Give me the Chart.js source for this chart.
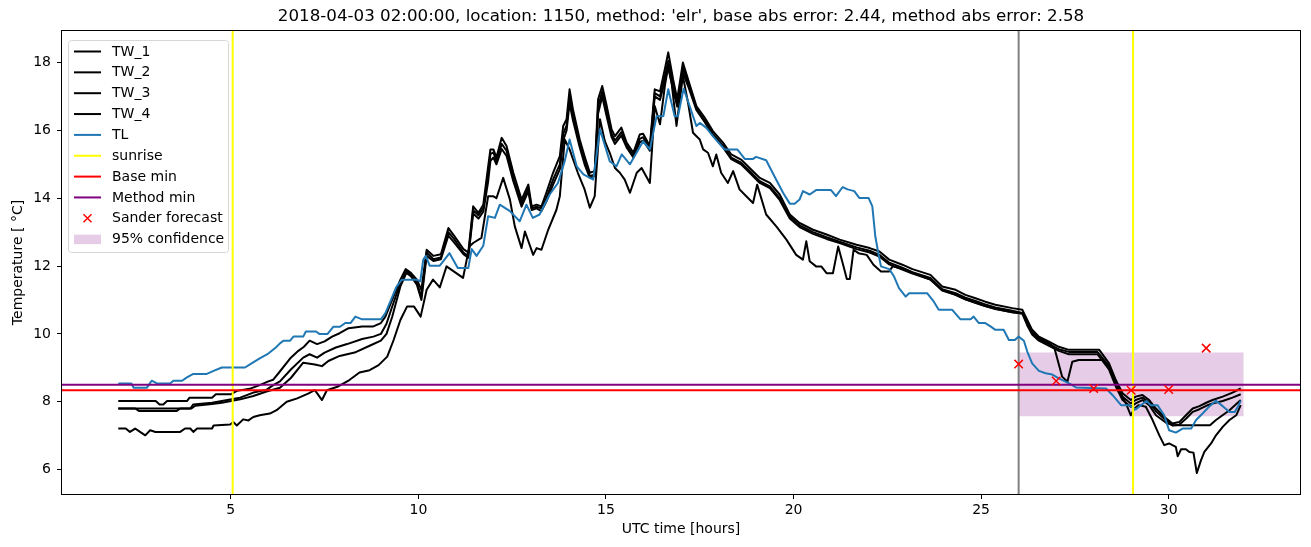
<!DOCTYPE html>
<html>
<head>
<meta charset="utf-8">
<script src="https://cdn.jsdelivr.net/npm/chart.js@4.4.0/dist/chart.umd.min.js"></script>
<style>
    html, body { margin: 0; padding: 0; background: #fff; }
    #wrap { width: 1311px; height: 547px; position: relative; }
</style>
</head>
<body>
<div id="wrap"><canvas id="tempChart"></canvas></div>
<script>
// Axis limits and ticks
const xRange = [0.5, 33.5];
const yRange = [5.28, 18.93];
const xTicks = [5, 10, 15, 20, 25, 30];
const yTicks = [6, 8, 10, 12, 14, 16, 18];

const titleText = "2018-04-03 02:00:00, location: 1150, method: 'elr', base abs error: 2.44, method abs error: 2.58";

// [hour, temperature]
const tw1 = [
    [2.0, 8.02], [3.0, 8.02], [3.1, 7.92], [3.2, 7.92], [3.3, 8.02], [3.83, 8.02], [3.9, 8.12], [4.5, 8.12],
    [4.6, 8.22], [5.0, 8.22], [5.16, 8.32], [5.5, 8.38], [5.77, 8.49], [6.0, 8.6], [6.13, 8.65], [6.27, 8.84],
    [6.6, 9.3], [6.8, 9.5], [6.95, 9.62], [7.1, 9.8], [7.3, 9.7], [7.5, 9.78], [7.7, 9.92], [7.9, 10.02],
    [8.14, 10.17], [8.5, 10.22], [8.8, 10.22], [9.0, 10.32], [9.12, 10.51], [9.3, 11.0], [9.52, 11.6],
    [9.66, 11.91], [9.8, 11.8], [9.96, 11.6], [10.08, 11.3], [10.22, 12.48], [10.4, 12.3], [10.6, 12.35],
    [10.8, 13.12], [10.95, 12.9], [11.2, 12.5], [11.33, 12.4], [11.46, 13.76], [11.6, 13.57], [11.73, 13.81],
    [11.86, 14.94], [11.92, 15.44], [12.0, 15.44], [12.08, 15.2], [12.22, 15.78], [12.35, 15.54], [12.53, 14.75],
    [12.75, 13.96], [12.93, 14.4], [13.02, 13.76], [13.15, 13.81], [13.28, 13.76], [13.41, 14.16], [13.59, 14.75],
    [13.77, 15.24], [13.86, 16.13], [13.95, 16.33], [14.03, 17.21], [14.12, 16.62], [14.3, 15.73], [14.43, 15.24],
    [14.57, 14.75], [14.7, 14.8], [14.79, 16.92], [14.9, 17.31], [15.01, 16.77], [15.15, 16.03], [15.24, 15.83],
    [15.41, 16.08], [15.55, 15.64], [15.73, 15.34], [15.9, 15.88], [15.99, 15.9], [16.17, 15.54], [16.3, 17.21],
    [16.44, 17.15], [16.57, 17.81], [16.66, 18.3], [16.79, 17.5], [16.9, 16.92], [17.05, 18.0], [17.19, 17.5],
    [17.41, 16.72], [17.63, 16.38], [17.85, 15.98], [18.12, 15.64], [18.34, 15.29], [18.6, 15.14], [18.83, 14.89],
    [19.1, 14.6], [19.37, 14.45], [19.63, 14.11], [19.9, 13.52], [20.16, 13.27], [20.52, 13.07], [20.88, 12.93],
    [21.23, 12.78], [21.68, 12.63], [22.03, 12.53], [22.29, 12.43], [22.55, 12.19], [22.9, 12.04], [23.17, 11.91],
    [23.65, 11.74], [23.96, 11.4], [24.32, 11.3], [24.58, 11.15], [24.85, 11.05], [25.11, 10.95], [25.38, 10.86],
    [25.83, 10.76], [26.1, 10.71], [26.23, 10.41], [26.36, 10.12], [26.54, 9.92], [26.81, 9.77], [27.07, 9.62],
    [27.34, 9.53], [28.15, 9.53], [28.41, 9.13], [28.59, 8.64], [28.77, 8.25], [28.99, 8.05], [29.12, 8.15],
    [29.3, 8.2], [29.48, 8.05], [29.66, 7.8], [29.93, 7.51], [30.1, 7.36], [30.28, 7.4], [30.46, 7.6],
    [30.64, 7.8], [30.82, 7.87], [31.0, 7.97], [31.17, 8.05], [31.44, 8.15], [31.7, 8.27], [31.92, 8.39]
];

const tw2 = [
    [2.0, 7.8], [3.92, 7.8], [4.0, 7.92], [4.5, 7.97], [4.76, 8.02], [5.25, 8.12], [5.6, 8.27], [5.95, 8.35],
    [6.13, 8.49], [6.31, 8.6], [6.6, 8.95], [6.93, 9.3], [7.1, 9.4], [7.3, 9.3], [7.5, 9.45], [7.8, 9.6],
    [8.1, 9.7], [8.5, 9.85], [8.8, 9.92], [9.0, 10.0], [9.15, 10.3], [9.3, 10.8], [9.52, 11.5], [9.68, 11.85],
    [9.8, 11.75], [9.96, 11.5], [10.08, 11.1], [10.22, 12.4], [10.4, 12.2], [10.6, 12.25], [10.8, 13.0],
    [10.95, 12.8], [11.2, 12.4], [11.33, 12.3], [11.46, 13.65], [11.6, 13.5], [11.73, 13.7], [11.86, 14.7],
    [11.92, 15.3], [12.0, 15.35], [12.08, 15.1], [12.22, 15.6], [12.35, 15.4], [12.53, 14.6], [12.75, 13.85],
    [12.93, 14.3], [13.02, 13.7], [13.15, 13.75], [13.28, 13.7], [13.41, 14.0], [13.59, 14.55], [13.77, 15.0],
    [13.86, 15.9], [13.95, 16.15], [14.03, 17.0], [14.12, 16.45], [14.3, 15.6], [14.43, 15.1], [14.57, 14.65],
    [14.7, 14.7], [14.79, 16.7], [14.9, 17.15], [15.01, 16.6], [15.15, 15.9], [15.24, 15.7], [15.41, 15.95],
    [15.55, 15.55], [15.73, 15.25], [15.9, 15.75], [15.99, 15.8], [16.17, 15.45], [16.3, 17.1], [16.44, 17.0],
    [16.57, 17.6], [16.66, 18.05], [16.79, 17.35], [16.9, 16.8], [17.05, 17.85], [17.19, 17.4], [17.41, 16.65],
    [17.63, 16.3], [17.85, 15.9], [18.12, 15.55], [18.34, 15.2], [18.6, 15.05], [18.83, 14.8], [19.1, 14.5],
    [19.37, 14.35], [19.63, 14.0], [19.9, 13.45], [20.16, 13.2], [20.52, 13.0], [20.88, 12.85], [21.23, 12.72],
    [21.68, 12.55], [22.03, 12.45], [22.29, 12.33], [22.55, 12.1], [22.9, 11.95], [23.17, 11.82], [23.65, 11.65],
    [23.96, 11.32], [24.32, 11.2], [24.58, 11.07], [24.85, 10.97], [25.11, 10.87], [25.38, 10.78], [25.83, 10.68],
    [26.1, 10.62], [26.23, 10.3], [26.36, 10.02], [26.54, 9.85], [26.81, 9.7], [27.07, 9.55], [27.34, 9.47],
    [28.1, 9.47], [28.41, 9.05], [28.59, 8.55], [28.77, 8.15], [28.99, 7.95], [29.12, 8.05], [29.3, 8.12],
    [29.48, 7.98], [29.66, 7.72], [29.93, 7.45], [30.1, 7.3], [30.28, 7.32], [30.46, 7.5], [30.64, 7.7],
    [30.82, 7.78], [31.0, 7.88], [31.17, 7.95], [31.44, 8.02], [31.7, 8.12], [31.92, 8.22]
];

const tw3 = [
    [2.0, 7.8], [2.45, 7.8], [2.55, 7.73], [3.56, 7.73], [3.65, 7.8], [3.95, 7.8], [4.05, 7.88], [4.5, 7.93],
    [4.76, 7.97], [5.25, 8.07], [5.6, 8.17], [5.95, 8.3], [6.31, 8.41], [6.6, 8.7], [6.93, 9.15], [7.24, 9.1],
    [7.43, 9.05], [7.6, 9.2], [7.9, 9.35], [8.3, 9.45], [8.7, 9.65], [9.0, 9.8], [9.15, 10.0], [9.3, 10.5],
    [9.52, 11.4], [9.68, 11.8], [9.8, 11.7], [9.96, 11.45], [10.08, 11.0], [10.22, 12.3], [10.4, 12.15],
    [10.6, 12.2], [10.8, 12.9], [10.95, 12.7], [11.2, 12.35], [11.33, 12.25], [11.46, 13.55], [11.6, 13.4],
    [11.73, 13.6], [11.86, 14.5], [11.92, 15.1], [12.0, 15.2], [12.08, 15.0], [12.22, 15.45], [12.35, 15.25],
    [12.53, 14.5], [12.75, 13.75], [12.93, 14.2], [13.02, 13.65], [13.15, 13.7], [13.28, 13.62], [13.41, 13.9],
    [13.59, 14.4], [13.77, 14.85], [13.86, 15.7], [13.95, 16.0], [14.03, 16.8], [14.12, 16.3], [14.3, 15.5],
    [14.43, 15.0], [14.57, 14.6], [14.7, 14.65], [14.79, 16.5], [14.9, 17.0], [15.01, 16.45], [15.15, 15.8],
    [15.24, 15.6], [15.41, 15.85], [15.55, 15.5], [15.73, 15.2], [15.9, 15.65], [15.99, 15.7], [16.17, 15.4],
    [16.3, 17.0], [16.44, 16.9], [16.57, 17.45], [16.66, 17.85], [16.79, 17.2], [16.9, 16.7], [17.05, 17.7],
    [17.19, 17.3], [17.41, 16.6], [17.63, 16.25], [17.85, 15.85], [18.12, 15.5], [18.34, 15.15], [18.6, 15.0],
    [18.83, 14.75], [19.1, 14.45], [19.37, 14.3], [19.63, 13.95], [19.9, 13.4], [20.16, 13.15], [20.52, 12.95],
    [20.88, 12.8], [21.23, 12.68], [21.68, 12.5], [22.03, 12.4], [22.29, 12.28], [22.55, 12.05], [22.9, 11.9],
    [23.17, 11.78], [23.65, 11.6], [23.96, 11.28], [24.32, 11.15], [24.58, 11.02], [24.85, 10.92], [25.11, 10.82],
    [25.38, 10.73], [25.83, 10.64], [26.1, 10.6], [26.23, 10.25], [26.36, 9.98], [26.54, 9.8], [26.81, 9.65],
    [27.07, 9.5], [27.34, 9.4], [28.1, 9.4], [28.41, 8.95], [28.59, 8.45], [28.77, 8.05], [28.99, 7.85],
    [29.12, 7.95], [29.3, 8.05], [29.48, 7.9], [29.66, 7.6], [29.93, 7.38], [30.1, 7.31], [30.5, 7.31],
    [31.1, 7.31], [31.26, 7.46], [31.62, 7.75], [31.92, 8.05]
];

const tw4 = [
    [2.0, 7.21], [2.2, 7.21], [2.31, 7.11], [2.45, 7.21], [2.58, 7.11], [2.72, 7.01], [2.85, 7.16], [2.99, 7.11],
    [3.65, 7.11], [3.78, 7.21], [3.92, 7.21], [4.0, 7.11], [4.1, 7.21], [4.5, 7.21], [4.54, 7.3], [4.98, 7.33],
    [5.07, 7.4], [5.16, 7.3], [5.33, 7.48], [5.47, 7.45], [5.6, 7.55], [5.77, 7.6], [6.04, 7.65], [6.22, 7.75],
    [6.49, 8.0], [6.77, 8.1], [7.06, 8.24], [7.24, 8.34], [7.43, 8.05], [7.56, 8.34], [7.84, 8.44], [8.16, 8.64],
    [8.43, 8.86], [8.7, 8.93], [8.94, 9.08], [9.17, 9.33], [9.34, 9.82], [9.52, 10.41], [9.7, 10.81], [9.88, 10.81],
    [10.06, 10.51], [10.22, 11.3], [10.39, 11.6], [10.57, 11.37], [10.75, 11.99], [11.0, 11.8], [11.19, 11.65],
    [11.36, 12.58], [11.46, 12.68], [11.68, 12.83], [11.86, 14.06], [11.99, 14.06], [12.08, 14.0], [12.26, 14.6],
    [12.44, 13.96], [12.57, 13.17], [12.75, 12.53], [12.84, 13.02], [13.06, 12.33], [13.15, 12.53], [13.28, 12.48],
    [13.46, 13.07], [13.68, 13.66], [13.77, 14.06], [13.9, 15.73], [14.03, 15.44], [14.25, 14.75], [14.43, 14.26],
    [14.57, 13.72], [14.7, 14.06], [14.84, 16.33], [14.97, 15.68], [15.1, 15.34], [15.24, 14.89], [15.37, 14.75],
    [15.5, 14.55], [15.64, 14.16], [15.82, 14.75], [15.95, 14.89], [16.17, 14.45], [16.3, 16.72], [16.44, 16.18],
    [16.57, 17.31], [16.66, 17.9], [16.75, 17.4], [16.88, 16.13], [17.05, 17.6], [17.19, 16.8], [17.32, 15.93],
    [17.5, 15.73], [17.59, 15.44], [17.72, 15.34], [17.85, 14.94], [17.94, 15.29], [18.07, 14.75], [18.25, 14.45],
    [18.39, 14.8], [18.56, 14.26], [18.74, 14.06], [18.92, 13.86], [19.03, 14.4], [19.27, 13.52], [19.54, 13.17],
    [19.81, 12.78], [20.07, 12.33], [20.25, 12.19], [20.34, 12.73], [20.43, 12.14], [20.6, 11.99], [20.74, 11.99],
    [20.88, 11.79], [21.05, 11.79], [21.19, 12.58], [21.33, 12.0], [21.42, 11.62], [21.5, 11.62], [21.6, 12.48],
    [21.73, 12.38], [21.95, 12.33], [22.13, 12.04], [22.33, 11.84], [22.55, 11.84], [22.64, 11.99], [22.9, 11.92],
    [23.17, 11.8], [23.65, 11.6], [23.96, 11.3], [24.32, 11.15], [24.58, 11.02], [24.85, 10.92], [25.11, 10.82],
    [25.38, 10.74], [25.83, 10.64], [26.1, 10.6], [26.23, 10.35], [26.36, 10.05], [26.54, 9.88], [26.81, 9.72],
    [26.95, 9.6], [27.16, 8.74], [27.3, 8.59], [27.43, 9.18], [27.6, 9.23], [28.24, 9.23], [28.5, 8.84],
    [28.68, 8.35], [28.86, 7.95], [28.99, 7.6], [29.08, 7.79], [29.2, 7.9], [29.39, 7.85], [29.57, 7.46],
    [29.75, 7.01], [29.88, 6.72], [30.01, 6.77], [30.19, 6.67], [30.24, 6.39], [30.33, 6.6], [30.46, 6.6],
    [30.55, 6.52], [30.66, 6.5], [30.75, 5.9], [30.86, 6.27], [30.95, 6.52], [31.13, 6.77], [31.26, 7.01],
    [31.44, 7.26], [31.62, 7.46], [31.8, 7.6], [31.92, 7.9]
];

const tl = [
    [2.0, 8.54], [2.35, 8.54], [2.41, 8.41], [2.76, 8.41], [2.89, 8.62], [3.03, 8.54], [3.38, 8.54], [3.47, 8.62],
    [3.7, 8.62], [3.83, 8.72], [4.0, 8.82], [4.36, 8.82], [4.54, 8.91], [4.76, 9.01], [5.38, 9.01], [5.51, 9.1],
    [5.77, 9.28], [6.0, 9.42], [6.2, 9.6], [6.31, 9.72], [6.4, 9.8], [6.58, 9.8], [6.67, 9.92], [6.93, 9.92],
    [7.0, 10.07], [7.27, 10.07], [7.36, 10.0], [7.58, 10.0], [7.73, 10.21], [7.91, 10.21], [8.05, 10.32],
    [8.19, 10.32], [8.32, 10.51], [8.5, 10.43], [9.0, 10.43], [9.12, 10.61], [9.25, 10.95], [9.41, 11.38],
    [9.56, 11.6], [9.96, 11.6], [10.05, 11.55], [10.13, 12.19], [10.2, 12.3], [10.3, 12.01], [10.57, 12.01],
    [10.83, 12.38], [11.05, 11.94], [11.33, 11.94], [11.42, 12.5], [11.55, 12.3], [11.73, 12.6], [11.86, 13.47],
    [12.04, 13.42], [12.17, 13.81], [12.44, 13.62], [12.7, 13.32], [12.88, 13.81], [13.05, 13.42], [13.23, 13.52],
    [13.5, 14.11], [13.72, 14.45], [13.9, 15.09], [14.03, 15.73], [14.22, 14.94], [14.4, 14.7], [14.66, 14.55],
    [14.84, 16.03], [15.1, 15.09], [15.28, 14.94], [15.42, 15.29], [15.64, 15.0], [15.99, 15.68], [16.17, 15.44],
    [16.35, 16.42], [16.53, 16.42], [16.66, 17.21], [16.83, 16.42], [16.92, 16.42], [17.07, 17.23], [17.23, 16.72],
    [17.41, 16.13], [17.5, 16.22], [17.67, 16.08], [17.85, 15.83], [18.16, 15.44], [18.5, 15.44], [18.7, 15.16],
    [18.92, 15.16], [19.0, 15.22], [19.27, 15.12], [19.49, 14.65], [19.72, 14.16], [19.9, 13.84], [20.03, 13.84],
    [20.16, 13.96], [20.25, 14.21], [20.43, 14.11], [20.6, 14.24], [21.0, 14.24], [21.13, 14.06], [21.31, 14.33],
    [21.44, 14.26], [21.62, 14.21], [21.75, 14.01], [22.0, 14.01], [22.1, 13.76], [22.18, 12.87], [22.26, 12.38],
    [22.33, 11.99], [22.55, 11.91], [22.68, 11.69], [22.81, 11.35], [22.99, 11.1], [23.08, 11.2], [23.56, 11.2],
    [23.74, 10.95], [23.87, 10.71], [24.23, 10.71], [24.45, 10.43], [24.72, 10.43], [24.8, 10.51], [24.94, 10.32],
    [25.11, 10.32], [25.25, 10.22], [25.38, 10.12], [25.6, 10.12], [25.74, 9.82], [25.9, 9.82], [26.0, 9.92],
    [26.14, 9.8], [26.23, 9.48], [26.36, 9.13], [26.54, 8.91], [26.72, 8.84], [26.9, 8.8], [27.07, 8.69],
    [27.25, 8.59], [27.43, 8.49], [27.53, 8.42], [28.33, 8.39], [28.5, 8.2], [28.73, 7.9], [28.95, 7.9],
    [29.12, 7.77], [29.26, 7.9], [29.41, 8.02], [29.52, 7.9], [29.7, 7.9], [29.88, 7.6], [30.01, 7.16],
    [30.19, 7.09], [30.37, 7.21], [30.6, 7.21], [30.73, 7.46], [30.91, 7.66], [31.09, 7.87], [31.26, 8.03],
    [31.44, 7.87], [31.62, 7.7], [31.76, 7.7], [31.85, 7.87], [31.92, 8.03]
];

const sunriseHours = [5.05, 29.05];
const forecastHour = 26;
const baseMin = 8.34;
const methodMin = 8.5;
const sanderHours = [26, 27, 28, 29, 30, 31];
const sanderTemps = [9.11, 8.61, 8.39, 8.34, 8.36, 9.58];
const confHours = [26, 32];
const confLow = 7.57;
const confHigh = 9.45;

const FONT = "'DejaVu Sans', sans-serif";

function toPoints(pairs) {
    return pairs.map(p => ({ x: p[0], y: p[1] }));
}

// vertical lines across the whole axis, separated by a gap
function verticalLines(hours) {
    const pts = [];
    hours.forEach(function(h) {
        pts.push({ x: h, y: yRange[0] }, { x: h, y: yRange[1] }, { x: h, y: null });
    });
    return pts;
}

function horizontalLine(v) {
    return [{ x: xRange[0], y: v }, { x: xRange[1], y: v }];
}

function lineSet(label, data, color, order, legend) {
    return {
        label: label, data: data, borderColor: color, backgroundColor: color,
        borderWidth: 2, pointRadius: 0, fill: false, tension: 0,
        borderJoinStyle: 'round', spanGaps: false, order: order, legendShape: legend
    };
}

// Legend drawn inside the plot, matplotlib style
const legendPlugin = {
    id: 'mplLegend',
    afterDraw(chart) {
        const ctx = chart.ctx;
        const items = chart.data.datasets.filter(d => d.legendShape);
        const x0 = 68.5, y0 = 40.5, w = 160, h = 212;
        ctx.save();
        ctx.beginPath();
        ctx.roundRect(x0, y0, w, h, 3);
        ctx.fillStyle = 'rgba(255,255,255,0.8)';
        ctx.fill();
        ctx.strokeStyle = '#d6d6d6';
        ctx.lineWidth = 1;
        ctx.stroke();

        ctx.font = '14px ' + FONT;
        ctx.textBaseline = 'middle';
        items.forEach(function(d, i) {
            const y = 51.5 + i * 20.85;
            if (d.legendShape === 'line') {
                ctx.strokeStyle = d.borderColor;
                ctx.lineWidth = 2;
                ctx.beginPath();
                ctx.moveTo(74, y);
                ctx.lineTo(101, y);
                ctx.stroke();
            } else if (d.legendShape === 'cross') {
                ctx.strokeStyle = d.borderColor;
                ctx.lineWidth = 1.5;
                ctx.beginPath();
                ctx.moveTo(83.5, y - 4); ctx.lineTo(91.5, y + 4);
                ctx.moveTo(91.5, y - 4); ctx.lineTo(83.5, y + 4);
                ctx.stroke();
            } else if (d.legendShape === 'box') {
                ctx.fillStyle = d.backgroundColor;
                ctx.fillRect(74, y - 4.5, 27, 9.5);
            }
            ctx.fillStyle = '#000';
            ctx.textAlign = 'left';
            ctx.fillText(d.label, 112, y + 0.5);
        });
        ctx.restore();
    }
};

// Frame, title and axis labels
const framePlugin = {
    id: 'mplFrame',
    afterDraw(chart) {
        const ctx = chart.ctx;
        const a = chart.chartArea;
        ctx.save();
        ctx.strokeStyle = '#000';
        ctx.lineWidth = 1;
        ctx.strokeRect(Math.round(a.left) - 0.5, Math.round(a.top) - 0.5,
            Math.round(a.right - a.left) + 1, Math.round(a.bottom - a.top) + 1);

        ctx.fillStyle = '#000';
        ctx.textAlign = 'center';
        ctx.textBaseline = 'middle';
        ctx.font = '16.7px ' + FONT;
        ctx.fillText(titleText, (a.left + a.right) / 2, 17);

        ctx.font = '14px ' + FONT;
        ctx.fillText('UTC time [hours]', (a.left + a.right) / 2, 529);

        ctx.translate(18, (a.top + a.bottom) / 2);
        ctx.rotate(-Math.PI / 2);
        ctx.fillText('Temperature [ \u00B0C]', 0, 0);
        ctx.restore();
    }
};

const datasets = [
    {
        label: '95% confidence',
        data: toPoints(confHours.map(h => [h, confHigh])),
        borderWidth: 0, pointRadius: 0,
        backgroundColor: 'rgba(128,0,128,0.2)', borderColor: 'rgba(0,0,0,0)',
        fill: { target: { value: confLow } }, order: 20, legendShape: 'box'
    },
    lineSet('now', verticalLines([forecastHour]), '#808080', 15, null),
    lineSet('TW_1', toPoints(tw1), '#000000', 14, 'line'),
    lineSet('TW_2', toPoints(tw2), '#000000', 13, 'line'),
    lineSet('TW_3', toPoints(tw3), '#000000', 12, 'line'),
    lineSet('TW_4', toPoints(tw4), '#000000', 11, 'line'),
    lineSet('TL', toPoints(tl), '#1f77b4', 10, 'line'),
    lineSet('sunrise', verticalLines(sunriseHours), '#ffff00', 9, 'line'),
    lineSet('Base min', horizontalLine(baseMin), '#ff0000', 8, 'line'),
    lineSet('Method min', horizontalLine(methodMin), '#800080', 7, 'line'),
    {
        label: 'Sander forecast',
        data: sanderHours.map((h, i) => ({ x: h, y: sanderTemps[i] })),
        showLine: false, pointStyle: 'crossRot', pointRadius: 6, pointHoverRadius: 6,
        borderColor: '#ff0000', backgroundColor: '#ff0000', pointBorderWidth: 1.5,
        order: 1, legendShape: 'cross'
    }
];

// legend order as in the reference
const legendOrder = ['TW_1', 'TW_2', 'TW_3', 'TW_4', 'TL', 'sunrise', 'Base min', 'Method min', 'Sander forecast', '95% confidence'];
datasets.sort((p, q) => {
    const ip = legendOrder.indexOf(p.label), iq = legendOrder.indexOf(q.label);
    return (ip < 0 ? 99 : ip) - (iq < 0 ? 99 : iq);
});

const tickFont = { family: FONT, size: 14 };

new Chart(document.getElementById('tempChart'), {
    type: 'line',
    data: { datasets: datasets },
    options: {
        responsive: true,
        maintainAspectRatio: false,
        animation: false,
        events: [],
        layout: { padding: { top: 31, right: 11, left: 0, bottom: 0 } },
        plugins: {
            legend: { display: false },
            title: { display: false },
            tooltip: { enabled: false }
        },
        scales: {
            x: {
                type: 'linear',
                min: xRange[0], max: xRange[1],
                afterBuildTicks: s => { s.ticks = xTicks.map(v => ({ value: v })); },
                afterFit: s => { s.height = 53; },
                grid: { drawOnChartArea: false, drawTicks: true, tickLength: 5, tickColor: '#000', tickWidth: 1 },
                border: { display: false },
                ticks: { color: '#000', font: tickFont, padding: 3, maxRotation: 0 }
            },
            y: {
                type: 'linear',
                min: yRange[0], max: yRange[1],
                afterBuildTicks: s => { s.ticks = yTicks.map(v => ({ value: v })); },
                afterFit: s => { s.width = 62; },
                grid: { drawOnChartArea: false, drawTicks: true, tickLength: 5, tickColor: '#000', tickWidth: 1 },
                border: { display: false },
                ticks: { color: '#000', font: tickFont, padding: 6 }
            }
        }
    },
    plugins: [framePlugin, legendPlugin]
});
</script>
</body>
</html>
